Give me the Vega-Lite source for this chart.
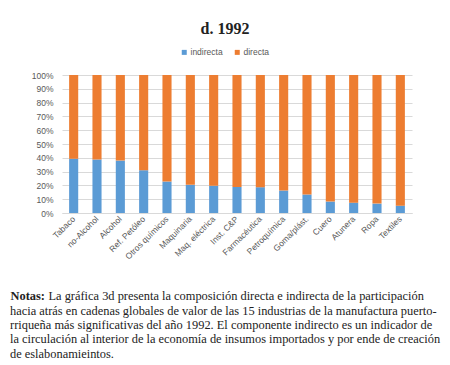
{
  "$schema": "https://vega.github.io/schema/vega-lite/v6.json",
  "autosize": {"type": "none"},
  "padding": {"left": 62, "top": 75, "right": 38, "bottom": 152},
  "width": 350,
  "height": 138,
  "background": "white",
  "config": {"view": {"stroke": null}},
  "title": {
    "text": [
      "hacia atrás en cadenas globales de valor de las 15 industrias de la manufactura puerto-",
      "rriqueña más significativas del año 1992. El componente indirecto es un indicador de",
      "la circulación al interior de la economía de insumos importados y por ende de creación",
      "de eslabonamieintos."
    ],
    "orient": "bottom",
    "anchor": "start",
    "frame": "group",
    "align": "left",
    "font": "Liberation Serif",
    "fontSize": 12.4,
    "fontWeight": "normal",
    "color": "#222222",
    "lineHeight": 14.3,
    "dx": -52,
    "dy": -6.7,
    "offset": 10
  },
  "data": {
    "values": [
      {"industria": "Tabaco", "componente": "indirecta", "valor": 0.393},
      {"industria": "Tabaco", "componente": "directa", "valor": 0.607},
      {"industria": "no-Alcohol", "componente": "indirecta", "valor": 0.388},
      {"industria": "no-Alcohol", "componente": "directa", "valor": 0.612},
      {"industria": "Alcohol", "componente": "indirecta", "valor": 0.38},
      {"industria": "Alcohol", "componente": "directa", "valor": 0.62},
      {"industria": "Ref. Petóleo", "componente": "indirecta", "valor": 0.31},
      {"industria": "Ref. Petóleo", "componente": "directa", "valor": 0.69},
      {"industria": "Otros químicos", "componente": "indirecta", "valor": 0.228},
      {"industria": "Otros químicos", "componente": "directa", "valor": 0.772},
      {"industria": "Maquinaria", "componente": "indirecta", "valor": 0.204},
      {"industria": "Maquinaria", "componente": "directa", "valor": 0.796},
      {"industria": "Maq. eléctrica", "componente": "indirecta", "valor": 0.197},
      {"industria": "Maq. eléctrica", "componente": "directa", "valor": 0.803},
      {"industria": "Inst. C&P", "componente": "indirecta", "valor": 0.189},
      {"industria": "Inst. C&P", "componente": "directa", "valor": 0.811},
      {"industria": "Farmacéutica", "componente": "indirecta", "valor": 0.187},
      {"industria": "Farmacéutica", "componente": "directa", "valor": 0.813},
      {"industria": "Petroquímica", "componente": "indirecta", "valor": 0.163},
      {"industria": "Petroquímica", "componente": "directa", "valor": 0.837},
      {"industria": "Goma/plást.", "componente": "indirecta", "valor": 0.134},
      {"industria": "Goma/plást.", "componente": "directa", "valor": 0.866},
      {"industria": "Cuero", "componente": "indirecta", "valor": 0.083},
      {"industria": "Cuero", "componente": "directa", "valor": 0.917},
      {"industria": "Atunera", "componente": "indirecta", "valor": 0.075},
      {"industria": "Atunera", "componente": "directa", "valor": 0.925},
      {"industria": "Ropa", "componente": "indirecta", "valor": 0.068},
      {"industria": "Ropa", "componente": "directa", "valor": 0.932},
      {"industria": "Textiles", "componente": "indirecta", "valor": 0.053},
      {"industria": "Textiles", "componente": "directa", "valor": 0.947}
    ]
  },
  "mark": {"type": "bar"},
  "encoding": {
    "x": {
      "field": "industria",
      "type": "nominal",
      "sort": null,
      "scale": {"paddingInner": 0.61, "paddingOuter": 0.305},
      "axis": {
        "title": "La gráfica 3d presenta la composición directa e indirecta de la participación",
        "titleFont": "Liberation Serif",
        "titleFontSize": 12.4,
        "titleFontWeight": "normal",
        "titleColor": "#222222",
        "titleAnchor": "start",
        "titleAlign": "left",
        "titleBaseline": "alphabetic",
        "titleX": -14,
        "titleY": 86,
        "labelAngle": -45,
        "labelAlign": "right",
        "labelBaseline": "middle",
        "labelFont": "Liberation Sans",
        "labelFontSize": 8.5,
        "labelColor": "#595959",
        "labelPadding": 4,
        "ticks": false,
        "domainColor": "#d9d9d9",
        "grid": false
      }
    },
    "y": {
      "field": "valor",
      "type": "quantitative",
      "stack": "zero",
      "scale": {"domain": [0, 1]},
      "axis": {
        "title": "Notas:",
        "titleFont": "Liberation Serif",
        "titleFontSize": 12.4,
        "titleFontWeight": "bold",
        "titleColor": "#222222",
        "titleAngle": 0,
        "titleAnchor": "start",
        "titleAlign": "left",
        "titleBaseline": "alphabetic",
        "titleX": -52,
        "titleY": 224,
        "format": ".0%",
        "values": [0, 0.1, 0.2, 0.3, 0.4, 0.5, 0.6, 0.7, 0.8, 0.9, 1],
        "labelFont": "Liberation Sans",
        "labelFontSize": 8.5,
        "labelColor": "#595959",
        "labelPadding": 9,
        "ticks": false,
        "domain": false,
        "gridColor": "#d9d9d9"
      }
    },
    "color": {
      "field": "componente",
      "type": "nominal",
      "scale": {"domain": ["indirecta", "directa"], "range": ["#5B9BD5", "#ED7D31"]},
      "legend": {
        "title": "d. 1992",
        "titleFont": "Liberation Serif",
        "titleFontSize": 16,
        "titleFontWeight": "bold",
        "titleColor": "#222222",
        "titleAnchor": "middle",
        "titlePadding": 11,
        "orient": "none",
        "direction": "horizontal",
        "legendX": 118,
        "legendY": -54,
        "symbolType": "square",
        "symbolSize": 25,
        "symbolStrokeWidth": 0,
        "labelFont": "Liberation Sans",
        "labelFontSize": 8.5,
        "labelColor": "#595959",
        "labelOffset": 2,
        "columnPadding": 10
      }
    },
    "order": {"field": "componente", "sort": "descending"}
  }
}
